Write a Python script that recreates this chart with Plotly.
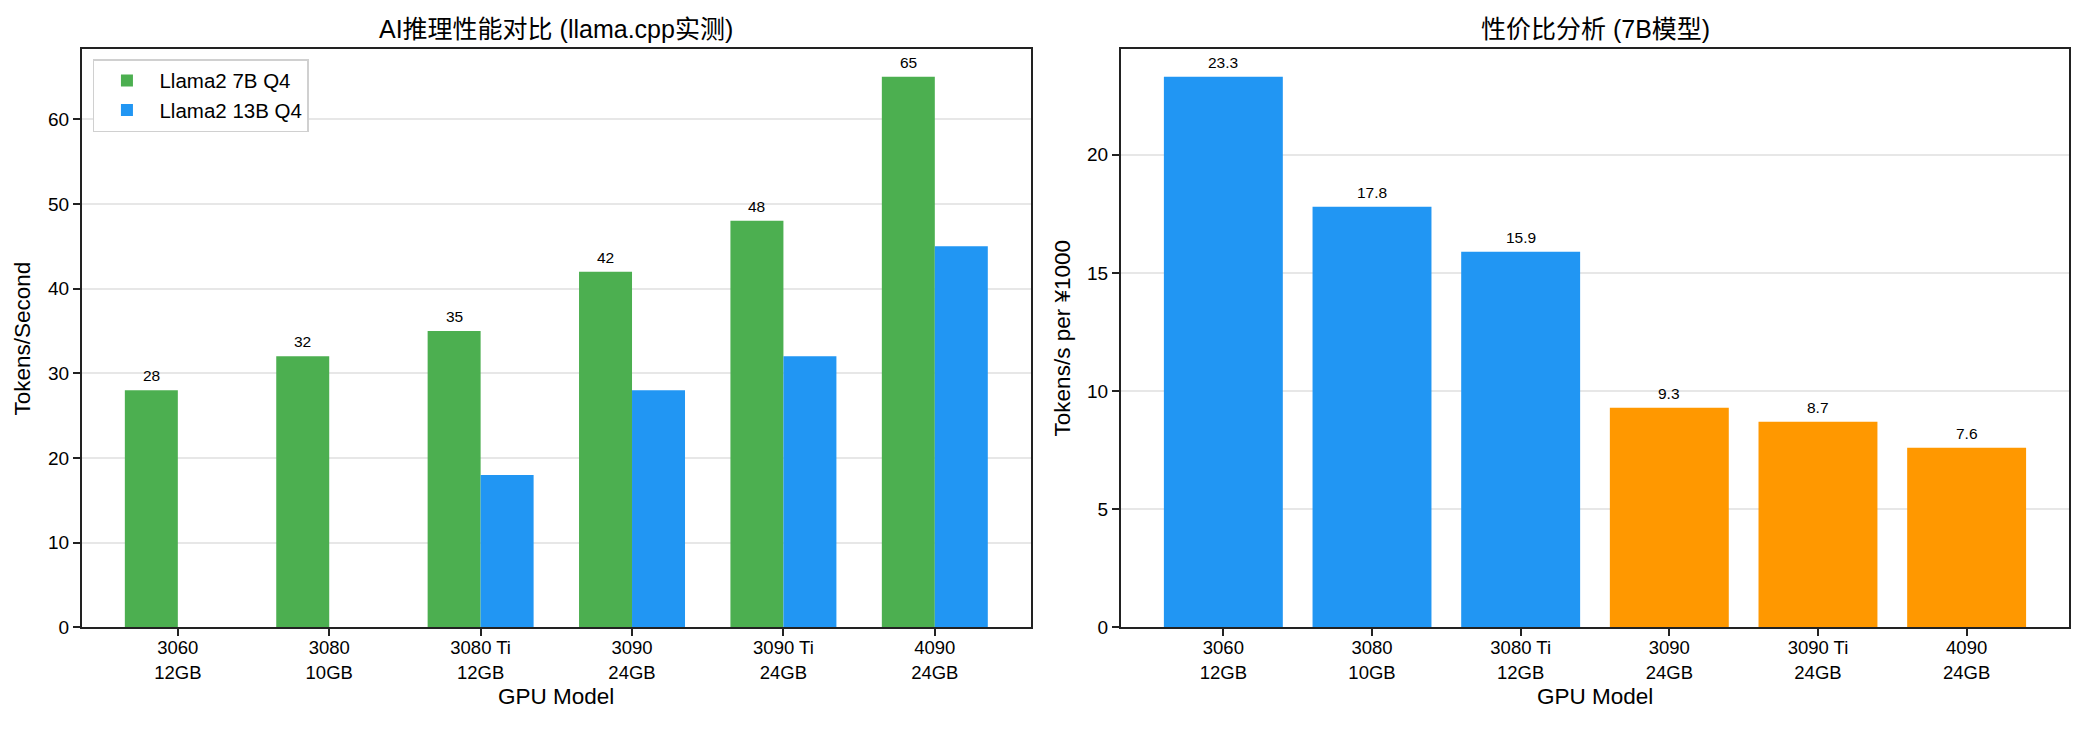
import plotly.graph_objects as go

# data
gpus = ["3060", "3080", "3080 Ti", "3090", "3090 Ti", "4090"]
vram = ["12GB", "10GB", "12GB", "24GB", "24GB", "24GB"]
tps_7b = [28, 32, 35, 42, 48, 65]
tps_13b = [0, 0, 18, 28, 32, 45]
value_per_1000 = [23.3, 17.8, 15.9, 9.3, 8.7, 7.6]

GREEN = "#4CAF50"
BLUE = "#2196F3"
ORANGE = "#FF9800"
FONT = "Liberation Sans, Arial, Noto Sans CJK SC, sans-serif"

idx = list(range(len(gpus)))
ticktext = [f"{g}<br>{m}" for g, m in zip(gpus, vram)]
w = 0.35

fig = go.Figure()

fig.add_trace(go.Bar(x=idx, y=tps_7b, width=w, offset=-w, name="Llama2 7B Q4",
                     marker=dict(color=GREEN, line=dict(width=0)), xaxis="x", yaxis="y"))
fig.add_trace(go.Bar(x=idx, y=tps_13b, width=w, offset=0, name="Llama2 13B Q4",
                     marker=dict(color=BLUE, line=dict(width=0)), xaxis="x", yaxis="y"))

# 24GB cards drawn in orange
bar_colors = [ORANGE if m == "24GB" else BLUE for m in vram]
fig.add_trace(go.Bar(x=idx, y=value_per_1000, width=0.8, showlegend=False,
                     marker=dict(color=bar_colors, line=dict(width=0)), xaxis="x2", yaxis="y2"))

annotations = []
for i, v in zip(idx, tps_7b):
    annotations.append(dict(x=i - w / 2, y=v, xref="x", yref="y", text=str(v), showarrow=False,
                            yanchor="bottom", yshift=4, font=dict(size=15.5, color="black")))
for i, v in zip(idx, value_per_1000):
    annotations.append(dict(x=i, y=v, xref="x2", yref="y2", text=f"{v:.1f}", showarrow=False,
                            yanchor="bottom", yshift=4, font=dict(size=15.5, color="black")))

# titles and axis labels
annotations += [
    dict(x=0.2669, y=0.9605, xref="paper", yref="paper", text="AI推理性能对比 (llama.cpp实测)",
         showarrow=False, xanchor="center", yanchor="middle", font=dict(size=25, color="black")),
    dict(x=0.7654, y=0.9605, xref="paper", yref="paper", text="性价比分析 (7B模型)",
         showarrow=False, xanchor="center", yanchor="middle", font=dict(size=25, color="black")),
    dict(x=0.2669, y=0.0381, xref="paper", yref="paper", text="GPU Model",
         showarrow=False, xanchor="center", yanchor="middle", font=dict(size=22.5, color="black")),
    dict(x=0.7654, y=0.0381, xref="paper", yref="paper", text="GPU Model",
         showarrow=False, xanchor="center", yanchor="middle", font=dict(size=22.5, color="black")),
    dict(x=0.0106, y=0.5326, xref="paper", yref="paper", text="Tokens/Second", textangle=-90,
         showarrow=False, xanchor="center", yanchor="middle", font=dict(size=22.5, color="black")),
    dict(x=0.5096, y=0.5326, xref="paper", yref="paper", text="Tokens/s per ¥1000", textangle=-90,
         showarrow=False, xanchor="center", yanchor="middle", font=dict(size=22.5, color="black")),
]

xcommon = dict(tickmode="array", tickvals=idx, ticktext=ticktext, ticks="outside", ticklen=7,
               tickwidth=1.6, tickcolor="#222", showline=True, linecolor="#222", linewidth=1.6,
               mirror=True, showgrid=False, zeroline=False, ticklabelstandoff=-4,
               tickfont=dict(size=18.5, color="black"))
ycommon = dict(ticks="outside", ticklen=7, tickwidth=1.6, tickcolor="#222", showline=True,
               linecolor="#222", linewidth=1.6, mirror=True, showgrid=True, gridcolor="#e7e7e7",
               gridwidth=1.6, zeroline=False, tickfont=dict(size=19, color="black"))

fig.update_layout(
    width=2084, height=735, autosize=False,
    margin=dict(l=0, r=0, t=0, b=0),
    paper_bgcolor="white", plot_bgcolor="white",
    font=dict(family=FONT, color="black"),
    barmode="overlay",
    xaxis=dict(domain=[0.0392, 0.4947], range=[-0.635, 5.635], anchor="y", **xcommon),
    yaxis=dict(domain=[0.1333, 0.9320], range=[0, 68.25], dtick=10, anchor="x", **ycommon),
    xaxis2=dict(domain=[0.5378, 0.9929], range=[-0.69, 5.69], anchor="y2", **xcommon),
    yaxis2=dict(domain=[0.1333, 0.9320], range=[0, 24.465], dtick=5, anchor="x2", **ycommon),
    legend=dict(x=0.0446, y=0.9184, xanchor="left", yanchor="top", bgcolor="white",
                bordercolor="#d0d0d0", borderwidth=1.5, itemwidth=55,
                font=dict(size=20.5, color="black")),
    annotations=annotations,
)

# page flush with the window: no body margin, no scrollbars
fix_page = ("document.documentElement.style.margin='0';document.documentElement.style.overflow='hidden';"
            "document.body.style.margin='0';document.body.style.padding='0';document.body.style.overflow='hidden';")
fig.write_html("out.html", config={"displayModeBar": False, "responsive": False},
               post_script=fix_page)
